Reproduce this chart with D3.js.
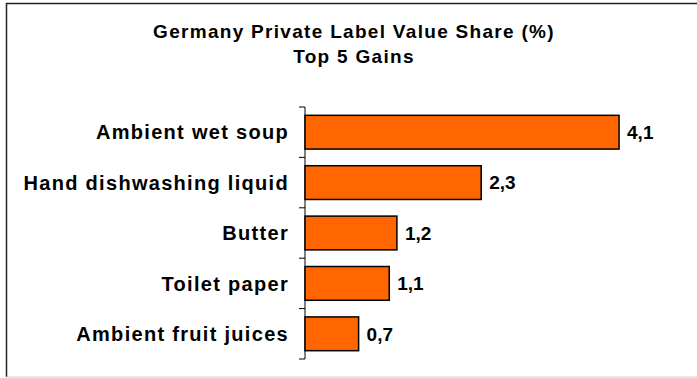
<!DOCTYPE html>
<meta charset="utf-8">
<style>
  body { margin: 0; background: #fff; }
  svg { display: block; font-family: "Liberation Sans", Arial, sans-serif; font-weight: bold; }
</style>
<svg></svg>
<script src="https://cdn.jsdelivr.net/npm/d3@7"></script>
<script>
// chart data
var categories = ["Ambient wet soup", "Hand dishwashing liquid", "Butter", "Toilet paper", "Ambient fruit juices"],
    values = [4.1, 2.3, 1.2, 1.1, 0.7],
    valueLabels = ["4,1", "2,3", "1,2", "1,1", "0,7"],
    titleLines = ["Germany Private Label Value Share (%)", "Top 5 Gains"];

var width = 697, height = 378;

var svg = d3.select("svg")
    .attr("width", width)
    .attr("height", height);

// outer frame
svg.append("line").attr("x1", 6).attr("x2", width).attr("y1", 3.5).attr("y2", 3.5)
   .attr("stroke", "#222").attr("stroke-width", 1.5);
svg.append("line").attr("x1", 6.5).attr("x2", 6.5).attr("y1", 3).attr("y2", 377)
   .attr("stroke", "#222").attr("stroke-width", 1.5);
svg.append("line").attr("x1", 6).attr("x2", width).attr("y1", 377).attr("y2", 377)
   .attr("stroke", "#ccc").attr("stroke-width", 1);

// title
svg.append("g").selectAll("text")
   .data(titleLines)
   .join("text")
   .attr("x", 354)
   .attr("y", function(d, i) { return 38 + i * 25; })
   .attr("text-anchor", "middle")
   .attr("font-size", 19)
   .attr("letter-spacing", 1.3)
   .attr("fill", "#000")
   .text(function(d) { return d; });

// scales
var x = d3.scaleLinear()
    .domain([0, 5])
    .range([305, 688]);

var y = d3.scaleBand()
    .domain(categories)
    .range([107, 359])
    .paddingInner(0.33)
    .paddingOuter(0.165);

// category axis: line plus ticks on band boundaries
var step = y.step();
var tickYs = d3.range(categories.length + 1).map(function(i) { return 107 + i * step; });

svg.append("line")
   .attr("x1", x(0)).attr("x2", x(0))
   .attr("y1", tickYs[0]).attr("y2", tickYs[tickYs.length - 1])
   .attr("stroke", "#000").attr("stroke-width", 1);

svg.append("g").selectAll("line")
   .data(tickYs)
   .join("line")
   .attr("x1", x(0) - 6).attr("x2", x(0))
   .attr("y1", function(d) { return d; }).attr("y2", function(d) { return d; })
   .attr("stroke", "#000").attr("stroke-width", 1);

// category labels
svg.append("g").selectAll("text")
   .data(categories)
   .join("text")
   .attr("x", 289)
   .attr("y", function(d) { return y(d) + y.bandwidth() / 2; })
   .attr("dy", "0.36em")
   .attr("text-anchor", "end")
   .attr("font-size", 20)
   .attr("letter-spacing", 1.3)
   .text(function(d) { return d; });

// bars
svg.append("g").selectAll("rect")
   .data(values)
   .join("rect")
   .attr("x", x(0))
   .attr("y", function(d, i) { return y(categories[i]); })
   .attr("width", function(d) { return x(d) - x(0); })
   .attr("height", y.bandwidth())
   .attr("fill", "#FF6600")
   .attr("stroke", "#000")
   .attr("stroke-width", 1.5);

// value labels
svg.append("g").selectAll("text")
   .data(values)
   .join("text")
   .attr("x", function(d) { return x(d) + 8; })
   .attr("y", function(d, i) { return y(categories[i]) + y.bandwidth() / 2; })
   .attr("dy", "0.36em")
   .attr("font-size", 19)
   .text(function(d, i) { return valueLabels[i]; });
</script>
